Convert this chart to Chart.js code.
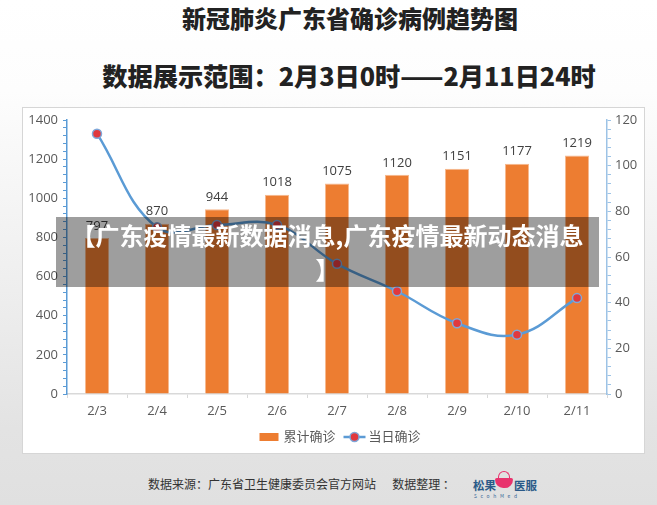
<!DOCTYPE html>
<html><head><meta charset="utf-8">
<script src="https://cdn.jsdelivr.net/npm/chart.js@4"></script>
<style>
html,body{margin:0;padding:0;}
body{width:657px;height:505px;overflow:hidden;position:relative;
 background:linear-gradient(to bottom,#ffffff 0%,#fdfdfd 18%,#efefef 55%,#e3e3e3 85%,#e0e0e0 100%);
 font-family:"Noto Sans CJK SC","Open Sans",sans-serif;}
#title{position:absolute;left:0;width:700px;top:3px;text-align:center;font-size:24px;font-weight:900;color:#222;line-height:30px;}
#sub{position:absolute;left:0;width:698px;top:59px;text-align:center;font-size:25.2px;font-weight:900;color:#222;line-height:32px;}
#panel{position:absolute;left:22px;top:107px;width:623px;height:347px;background:#fff;border:1px solid #d6d6d6;box-sizing:border-box;}
#wrap{position:absolute;left:22px;top:107px;width:623px;height:346px;}
#banner{position:absolute;left:56px;top:217px;width:543px;height:70px;background:rgba(0,0,0,0.38);color:#fff;font-weight:bold;font-size:24px;line-height:34px;text-align:center;box-sizing:border-box;padding-top:1px;white-space:nowrap;}
#foot{position:absolute;left:148px;top:475px;font-size:12px;color:#333;white-space:pre;line-height:18px;}
#logo{position:absolute;left:473px;top:468px;width:70px;height:34px;}
#logo .t{position:absolute;top:9px;font-size:11.5px;color:#2a5a88;font-weight:bold;line-height:16px;}
#logo .s{position:absolute;left:1px;top:24px;font-size:5px;color:#3a6a98;letter-spacing:3.6px;line-height:8px;}
#logo .cup{position:absolute;left:22px;top:10px;width:18px;height:10px;background:#e8336d;border-radius:2px 2px 9px 9px;}
#logo .cap{position:absolute;left:25px;top:3px;width:12px;height:7px;border:1.5px solid #e8336d;border-bottom:none;border-radius:7px 7px 0 0;box-sizing:border-box;}
</style></head>
<body>
<div id="title">新冠肺炎广东省确诊病例趋势图</div>
<div id="sub">数据展示范围：2月3日0时——2月11日24时</div>
<div id="panel"></div>
<div id="wrap"><canvas id="c"></canvas></div>
<div id="banner">【广东疫情最新数据消息,广东疫情最新动态消息<br>】</div>
<div id="foot">数据来源：广东省卫生健康委员会官方网站      数据整理 ：</div>
<div id="logo"><span class="t" style="left:0">松果</span><span class="cap"></span><span class="cup"></span><span class="t" style="left:41px">医服</span><span class="s">ScohMed</span></div>
<script>
const categories = ['2/3','2/4','2/5','2/6','2/7','2/8','2/9','2/10','2/11'];
const cumulativeCases = [797, 870, 944, 1018, 1075, 1120, 1151, 1177, 1219];
const dailyCases = [114, 73, 74, 74, 57, 45, 31, 26, 42];
const seriesNames = ['累计确诊', '当日确诊'];

const FONT = '"Open Sans","Noto Sans CJK SC",sans-serif';
const barColor = '#ED7D31';
const lineColor = '#5B9BD5';
const pointColor = '#E0393E';

const barLabels = {
  id: 'barLabels',
  afterDatasetsDraw(chart) {
    const ctx = chart.ctx;
    const meta = chart.getDatasetMeta(1);
    ctx.save();
    ctx.font = '13px ' + FONT;
    ctx.fillStyle = '#404040';
    ctx.textAlign = 'center';
    ctx.textBaseline = 'middle';
    meta.data.forEach((bar, i) => {
      ctx.fillText(String(chart.data.datasets[1].data[i]), bar.x, bar.y - 12);
    });
    ctx.restore();
  }
};

const customLegend = {
  id: 'customLegend',
  afterDraw(chart) {
    const ctx = chart.ctx;
    const cx = (chart.chartArea.left + chart.chartArea.right) / 2;
    const y = chart.chartArea.bottom + 43;
    ctx.save();
    ctx.font = '13px ' + FONT;
    ctx.textBaseline = 'middle';
    ctx.textAlign = 'left';
    const w1 = ctx.measureText(seriesNames[0]).width;
    const w2 = ctx.measureText(seriesNames[1]).width;
    const total = 19 + 5 + w1 + 8 + 22 + 3 + w2;
    let x = cx - total / 2 + 3;
    ctx.fillStyle = barColor;
    ctx.fillRect(x, y - 4, 19, 8);
    x += 24;
    ctx.fillStyle = '#595959';
    ctx.fillText(seriesNames[0], x, y);
    x += w1 + 8;
    ctx.strokeStyle = lineColor;
    ctx.lineWidth = 2.5;
    ctx.beginPath(); ctx.moveTo(x, y); ctx.lineTo(x + 22, y); ctx.stroke();
    ctx.beginPath(); ctx.arc(x + 11, y, 4.5, 0, Math.PI * 2);
    ctx.fillStyle = pointColor; ctx.fill();
    ctx.lineWidth = 1.5; ctx.strokeStyle = '#7FA7D9'; ctx.stroke();
    x += 25;
    ctx.fillStyle = '#595959';
    ctx.fillText(seriesNames[1], x, y);
    ctx.restore();
  }
};

new Chart(document.getElementById('c'), {
  data: {
    labels: categories,
    datasets: [
      {
        type: 'line', label: seriesNames[1], data: dailyCases, yAxisID: 'y1',
        borderColor: lineColor, borderWidth: 2.5, tension: 0.4,
        pointRadius: 4.5, pointHoverRadius: 4.5,
        pointBackgroundColor: pointColor, pointBorderColor: '#7FA7D9', pointBorderWidth: 1.5,
        order: 0
      },
      {
        type: 'bar', label: seriesNames[0], data: cumulativeCases, yAxisID: 'y',
        backgroundColor: barColor, borderColor: '#F6B98F', borderWidth: {top:1,left:1,right:1,bottom:0},
        barPercentage: 0.4, categoryPercentage: 1.0,
        order: 1
      }
    ]
  },
  options: {
    responsive: true, maintainAspectRatio: false, animation: false,
    layout: { padding: { top: 13, bottom: 29, left: 0, right: 0 } },
    plugins: { legend: { display: false }, tooltip: { enabled: false } },
    scales: {
      x: {
        offset: true,
        grid: { offset: true, drawOnChartArea: false, drawTicks: true, tickLength: 4, color: '#D9D9D9', lineWidth: 1 },
        border: { color: '#D9D9D9', width: 1.5 },
        ticks: { color: '#595959', font: { size: 13, family: FONT }, padding: 5, maxRotation: 0 },
        afterFit(s) { s.height = 30; }
      },
      y: {
        position: 'left', min: 0, max: 1400,
        grid: { drawOnChartArea: false, drawTicks: true, tickLength: 4, color: lineColor, lineWidth: 1 },
        border: { color: lineColor, width: 1.5 },
        ticks: { stepSize: 40, autoSkip: false, color: '#595959', font: { size: 13, family: FONT }, padding: 5,
          callback: v => (Math.round(v) % 200 === 0 ? String(Math.round(v)) : '') },
        afterFit(s) { s.width = 45; }
      },
      y1: {
        position: 'right', min: 0, max: 120,
        grid: { drawOnChartArea: false, drawTicks: true, tickLength: 4, color: '#9DC3E6', lineWidth: 1 },
        border: { color: '#9DC3E6', width: 1.5 },
        ticks: { stepSize: 4, autoSkip: false, color: '#595959', font: { size: 13, family: FONT }, padding: 4,
          callback: v => (Math.round(v) % 20 === 0 ? String(Math.round(v)) : '') },
        afterFit(s) { s.width = 38; }
      }
    }
  },
  plugins: [barLabels, customLegend]
});
</script>
</body></html>
